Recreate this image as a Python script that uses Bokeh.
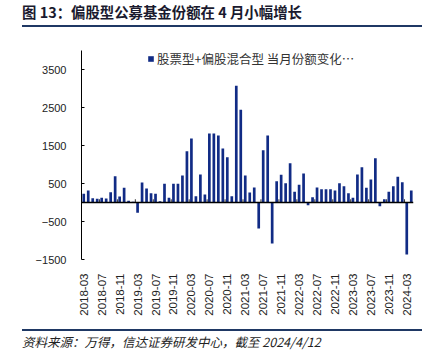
import math
from bokeh.plotting import figure
from bokeh.layouts import column
from bokeh.models import (ColumnDataSource, Range1d, FixedTicker, Span, Legend, LegendItem, Div)
from bokeh.embed import file_html
from bokeh.resources import INLINE

# ---------------- data ----------------
months = [f"{2018 + (2 + i) // 12}-{(2 + i) % 12 + 1:02d}" for i in range(74)]  # 2018-03 .. 2024-04
share_change = [
    228, 316, 114, 96, 123, 105, 272, 692, 158, 386,
    45, 20, -272, 526, 368, 245, 228, 35, 491, 123,
    491, 491, 710, 1350, 1684, 167, 737, 210, 1815, 1815,
    1763, 1421, 1193, 167, 3070, 2438, 710, 263, 395, -684,
    1377, 1763, -1079, 561, 728, 508, 1035, 280, 465, 763,
    -70, 140, 394, 351, 351, 351, 316, 508, 430, 245,
    123, 736, 929, 386, 605, 1166, -96, 88, 280, 430,
    675, 535, -1368, 316,
]
y_ticks = [-1500, -500, 500, 1500, 2500, 3500]
x_tick_idx = list(range(0, 74, 4))
series_name = "股票型+偏股混合型 当月份额变化…"
title_text = "图 13：偏股型公募基金份额在 4 月小幅增长"
source_text = "资料来源：万得，信达证券研发中心，截至 2024/4/12"

NAVY = "#1f3864"
BAR = "#112b85"
CJK = "Noto Sans CJK SC"
LAT = "Liberation Sans"
W = 435

# ---------------- header ----------------
hdr = Div(width=W, height=32, margin=0, text=(
    f'<div style="position:relative;width:{W}px;height:32px;margin:0;padding:0;">'
    f'<div style="position:absolute;left:22px;top:3px;white-space:nowrap;'
    f'font-family:\'{CJK}\';font-weight:bold;font-size:14.4px;line-height:18px;color:#1a1a2e;">'
    f'{title_text}</div>'
    f'<div style="position:absolute;left:22px;top:25px;width:399.5px;height:2px;'
    f'background:{NAVY};"></div></div>'))

# ---------------- main chart ----------------
x_idx = list(range(len(months)))
src = ColumnDataSource(dict(x=x_idx, v=share_change, m=months))

p = figure(width=W, height=293, x_range=Range1d(-0.5, len(months) - 0.5),
           y_range=Range1d(-1500, 4000), output_backend="svg", toolbar_location=None,
           min_border_left=81, min_border_right=22, min_border_top=18, min_border_bottom=66,
           margin=0)
p.outline_line_color = None
p.grid.visible = False

r = p.vbar(x="x", top="v", width=0.6, source=src, fill_color=BAR, line_color=None)

p.add_layout(Span(location=0, dimension="width", line_color="black", line_width=1.3))

tick_x = [i - 0.5 for i in x_tick_idx[1:]]
p.segment(x0=tick_x, y0=[0] * len(tick_x), x1=tick_x, y1=[85] * len(tick_x),
          line_color="#333333", line_width=1)

# y axis
p.yaxis.ticker = FixedTicker(ticks=y_ticks)
p.yaxis.major_label_overrides = {t: (f"\u2212{abs(t)}" if t < 0 else str(t)) for t in y_ticks}
p.yaxis.axis_line_color = "black"
p.yaxis.major_tick_in = 3
p.yaxis.major_tick_out = 0
p.yaxis.minor_tick_line_color = None
p.yaxis.major_label_standoff = 15
p.yaxis.major_label_text_font = LAT
p.yaxis.major_label_text_font_size = "11px"
p.yaxis.major_label_text_color = "#222222"

# x axis
p.xaxis.ticker = FixedTicker(ticks=x_tick_idx)
p.xaxis.major_label_overrides = {i: months[i] for i in x_tick_idx}
p.xaxis.axis_line_color = None
p.xaxis.major_tick_line_color = None
p.xaxis.minor_tick_line_color = None
p.xaxis.major_label_orientation = math.pi / 2
p.xaxis.major_label_standoff = 8
p.xaxis.major_label_text_font = LAT
p.xaxis.major_label_text_font_size = "11.5px"
p.xaxis.major_label_text_color = "#222222"

legend = Legend(items=[LegendItem(label=series_name, renderers=[r])], location=(66, 191),
                orientation="horizontal", padding=0, margin=0, spacing=0,
                glyph_width=7, glyph_height=7, label_standoff=3, label_height=16,
                label_text_font=CJK, label_text_font_size="12.5px", label_text_color="#333333",
                background_fill_alpha=0, border_line_color=None)
p.add_layout(legend)

# ---------------- footer ----------------
ftr = Div(width=W, height=32, margin=0, text=(
    f'<div style="position:relative;width:{W}px;height:32px;margin:0;padding:0;">'
    f'<div style="position:absolute;left:22px;top:3.5px;width:399.5px;height:2px;'
    f'background:{NAVY};"></div>'
    f'<div style="position:absolute;left:22px;top:8.5px;white-space:nowrap;'
    f'font-family:\'{CJK}\';font-style:italic;font-size:12.5px;line-height:16px;color:#222222;">'
    f'{source_text}</div></div>'))

layout = column(hdr, p, ftr, spacing=0)
open("out.html", "w").write(file_html(layout, INLINE))
